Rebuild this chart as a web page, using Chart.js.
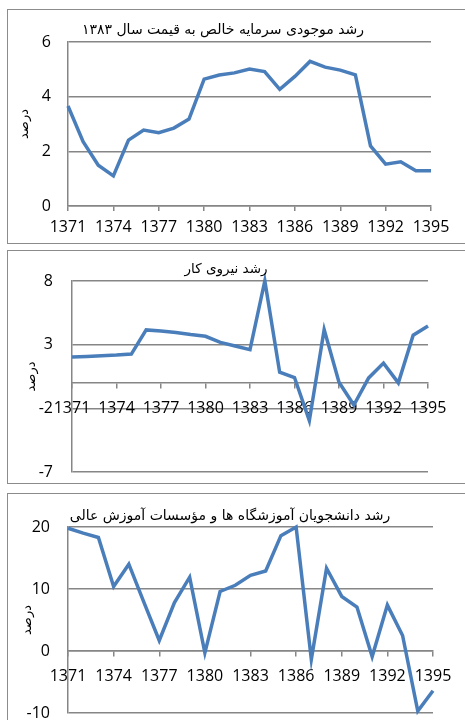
<!DOCTYPE html>
<html>
<head>
<meta charset="utf-8">
<script src="https://cdn.jsdelivr.net/npm/chart.js@4.4.0/dist/chart.umd.min.js"></script>
<style>
  body { margin: 0; width: 465px; height: 720px; overflow: hidden; background: #fff; position: relative; }
  .panel { position: absolute; left: 7px; width: 480px; border: 1px solid #8c8c8c; background: #fff; overflow: hidden; }
  .panel canvas { position: absolute; left: 0; top: 0; }
  .ttl { position: absolute; transform: translate(-50%, -50%); font: 14px "DejaVu Sans"; line-height: 1; color: #000; direction: rtl; white-space: nowrap; }
</style>
</head>
<body>
<div class="panel" style="top:9px;height:233px">
  <canvas id="capital" width="470" height="233"></canvas>
  <div class="ttl" style="left:215px;top:19px">رشد موجودی سرمایه خالص به قیمت سال ۱۳۸۳</div>
</div>
<div class="panel" style="top:250px;height:232px">
  <canvas id="labor" width="470" height="232"></canvas>
  <div class="ttl" style="left:218px;top:18px;font-size:13.5px">رشد نیروی کار</div>
</div>
<div class="panel" style="top:493px;height:240px">
  <canvas id="students" width="470" height="240"></canvas>
  <div class="ttl" style="left:222px;top:21px">رشد دانشجویان آموزشگاه ها و مؤسسات آموزش عالی</div>
</div>
<script>
// Data
const years = [1371, 1372, 1373, 1374, 1375, 1376, 1377, 1378, 1379, 1380, 1381, 1382, 1383,
               1384, 1385, 1386, 1387, 1388, 1389, 1390, 1391, 1392, 1393, 1394, 1395];
const capitalGrowth = [3.66, 2.35, 1.49, 1.10, 2.41, 2.78, 2.68, 2.85, 3.18, 4.64, 4.79, 4.87, 5.01,
                       4.92, 4.27, 4.74, 5.29, 5.08, 4.97, 4.80, 2.20, 1.53, 1.62, 1.29, 1.29];
const laborGrowth = [2.03, 2.08, 2.13, 2.18, 2.26, 4.16, 4.08, 3.95, 3.79, 3.66, 3.18, 2.89, 2.61,
                     8.0, 0.84, 0.42, -2.97, 4.18, 0.05, -1.74, 0.39, 1.55, 0.0, 3.74, 4.47];
const studentGrowth = [19.8, 19.0, 18.3, 10.4, 14.0, 7.8, 1.7, 7.8, 11.9, -0.3, 9.6, 10.6, 12.2,
                       12.9, 18.6, 20.0, -1.35, 13.35, 8.8, 7.1, -0.9, 7.4, 2.5, -9.7, -6.4];
const capitalTicks = [0, 2, 4, 6];
const laborTicks = [-7, -2, 3, 8];
const studentTicks = [-10, 0, 10, 20];
const yTitle = 'درصد';

const gray = '#868686';
const blue = '#4a7ebb';
const clear = 'rgba(0,0,0,0)';
const tickFont = { family: 'Open Sans', size: 16 };

// one panel = one line chart
function drawPanel(id, values, yTicks, lay) {
  new Chart(document.getElementById(id), {
    type: 'line',
    data: {
      labels: years.map(String),
      datasets: [{
        data: values,
        borderColor: blue,
        borderWidth: 3.5,
        pointRadius: 0,
        tension: 0,
        fill: false,
        clip: false
      }]
    },
    options: {
      responsive: false,
      animation: false,
      layout: { padding: { left: lay.left, right: lay.right, top: lay.top, bottom: lay.bottom } },
      plugins: { legend: { display: false }, tooltip: { enabled: false } },
      scales: {
        x: {
          position: lay.xAtZero ? { y: 0 } : 'bottom',
          grid: {
            drawOnChartArea: false,
            tickLength: 5,
            lineWidth: 1.5,
            color: c => (c.index % 3 === 0 ? gray : clear)
          },
          border: { color: gray, width: 1.5 },
          ticks: {
            autoSkip: false,
            maxRotation: 0,
            padding: lay.xPad,
            color: '#000',
            font: tickFont,
            callback: function (v, i) { return i % 3 === 0 ? this.getLabelForValue(v) : ''; }
          },
          afterFit: s => { s.height = lay.xAtZero ? 0 : 31; }
        },
        y: {
          min: yTicks[0],
          max: yTicks[yTicks.length - 1],
          afterBuildTicks: s => { s.ticks = yTicks.map(v => ({ value: v })); },
          afterFit: s => { s.width = lay.yWidth; },
          // gap between labels and axis comes from an invisible tick mark,
          // ticks.padding would also pad the plot vertically
          grid: { color: gray, lineWidth: 1.5, drawTicks: true, tickLength: lay.yPad, tickColor: clear },
          border: { color: gray, width: 1.5 },
          ticks: { padding: 0, color: '#000', font: tickFont },
          title: { display: true, text: yTitle, color: '#000', font: { family: 'DejaVu Sans', size: 13 }, padding: 0 }
        }
      }
    }
  });
}

drawPanel('capital', capitalGrowth, capitalTicks,
  { left: 9, right: 47, top: 32, bottom: 6, yWidth: 51, yPad: 17, xPad: 7, xAtZero: false });
drawPanel('labor', laborGrowth, laborTicks,
  { left: 16, right: 50, top: 30, bottom: 11, yWidth: 48, yPad: 19, xPad: 11, xAtZero: true });
drawPanel('students', studentGrowth, studentTicks,
  { left: 12, right: 45, top: 33, bottom: 21, yWidth: 48, yPad: 18, xPad: 11, xAtZero: true });
</script>
</body>
</html>
